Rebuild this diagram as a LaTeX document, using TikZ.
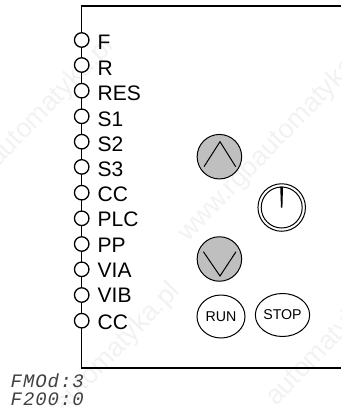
\documentclass[tikz,border=0pt]{standalone}
\usepackage{fontspec}
\setmainfont{Liberation Sans}
\newfontfamily\lcdfont[LetterSpace=5]{Liberation Mono}
\usetikzlibrary{calc,shapes.geometric}
\begin{document}
\begin{tikzpicture}[x=1pt,y=-1pt,
  wire/.style={line width=1.3pt,draw=black},
  term/.style={circle,draw=black,fill=white,line width=1.3pt,minimum size=14.5pt,inner sep=0pt},
  lab/.style={anchor=base west,font=\fontsize{21}{21}\selectfont,inner sep=0pt,text=black},
  graybtn/.style={circle,draw=black,fill=black!25,line width=1pt,minimum size=44.5pt,inner sep=0pt},
  cmdbtn/.style={ellipse,draw=black,fill=white,line width=1pt,inner sep=0pt,minimum width=48pt,minimum height=43pt,font=\fontsize{14.2}{14.2}\selectfont},
  lcd/.style={anchor=west,inner sep=0pt,text=black!75,font=\lcdfont\itshape\fontsize{19}{19}\selectfont},
  mark text/.style={anchor=base west,inner sep=0pt,rotate=46,text=black!5,font=\fontsize{27}{27}\selectfont}]
\useasboundingbox (0,0) rectangle (341,407);
\node[mark text] (w1) at (-2,168) {automatyka.pl};
\node[mark text] (w2) at (188,243) {www.rgbautomatyka.pl};
\node[mark text] (w3) at (-8,488) {www.rgbautomatyka.pl};
\node[mark text] (w4) at (276,407) {automatyka.pl};
\coordinate (tl) at (81.7,6);
\coordinate (tr) at (341,6);
\coordinate (bl) at (81.7,368);
\coordinate (br) at (341,368);
\draw[wire] (tr) -- (tl) -- (bl) -- (br);
\foreach \n/\t/\y/\ly in {a/F/40/49.3,b/R/65/75,c/RES/90.7/100.5,d/S1/116.3/126,e/S2/141.7/151,f/S3/166.9/176.7,g/CC/192.7/201.4,h/PLC/218.3/226.7,i/PP/244/252.8,j/VIA/269.3/277.6,k/VIB/295/302.2,l/CC/320.7/329}{
  \node[term] (\n) at (81.7,\y) {};
  \node[lab] (\n t) at (97.5,\ly) {\t};
}
\node[graybtn] (up) at (219.4,156.7) {};
\draw[line width=1pt] ($(up)+(-15.4,10)$) -- ($(up)+(0.6,-15)$) -- ($(up)+(16.3,10)$);
\node[graybtn] (down) at (219.4,259) {};
\draw[line width=1pt] ($(down)+(-16,-7.3)$) -- ($(down)+(0.6,17)$) -- ($(down)+(16.6,-7.3)$);
\node[circle,draw=black,fill=white,line width=1pt,minimum size=47.5pt,inner sep=0pt] (knob) at (281.7,207.5) {};
\node[circle,draw=black,fill=white,line width=1pt,minimum size=41pt,inner sep=0pt] (knobin) at (knob) {};
\fill (280.2,186.7) -- (283,186.7) -- (282.4,207.7) -- (281,207.7) -- cycle;
\node[cmdbtn] (run) at (221,316.5) {RUN};
\node[cmdbtn] (stop) at (282.5,315) {STOP};
\node[lcd] (l1) at (10.5,380.5) {FMOd:3};
\node[lcd] (l2) at (10.5,399) {F200:0};
\end{tikzpicture}
\end{document}
